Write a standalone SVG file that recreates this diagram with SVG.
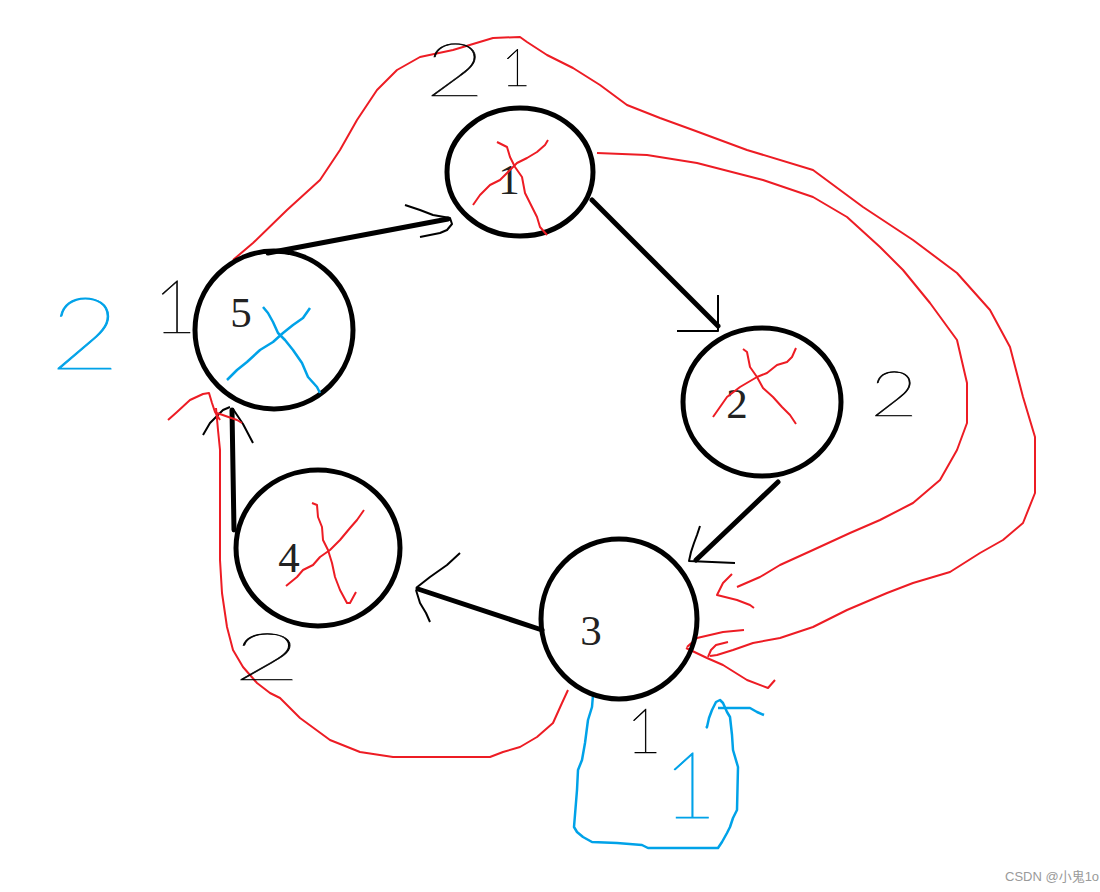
<svg xmlns="http://www.w3.org/2000/svg" width="1100" height="892" viewBox="0 0 1100 892">
<style>
.node ellipse{fill:none;stroke:#000;stroke-width:5}
.lbl{font-family:"Liberation Serif",serif;font-size:43px;fill:#222;text-anchor:middle}
.thick{fill:none;stroke:#000;stroke-width:5;stroke-linecap:round}
.thin{fill:none;stroke:#000;stroke-width:2;stroke-linejoin:round}
.red{fill:none;stroke:#ed1c24;stroke-width:2;stroke-linejoin:round}
.blue{fill:none;stroke:#00a2e8;stroke-width:2.5;stroke-linejoin:round}
.hand{font-family:Lato,"Liberation Sans",sans-serif;font-weight:100;stroke-width:0.6}
.hb{fill:#000;stroke:#000}
.hbl{fill:#00a2e8;stroke:#00a2e8;stroke-width:0.9}
.wm{font-family:"Liberation Sans","Noto Sans CJK SC",sans-serif;font-size:13px;fill:#9a9a9a}
</style>
<rect width="1100" height="892" fill="#fff"/>
<g id="connectors">
<line class="thick" x1="268" y1="253" x2="448" y2="219"/>
<polyline class="thin" points="405,205 420,210 433,215 450,218 452,224 447,230 440,233 420,237"/>
<line class="thick" x1="592" y1="200" x2="718" y2="326"/>
<polyline class="thin" points="718,295 718,331 677,331"/>
<line class="thick" x1="778" y1="482" x2="696" y2="560"/>
<polyline class="thin" points="700,526 697,535 694,543 691,552 689,561 735,563"/>
<line class="thick" x1="542" y1="630" x2="418" y2="589"/>
<polyline class="thin" points="460,553 447,565 430,577 416,588"/>
<polyline class="thin" points="416,590 420,603 426,613 430,622"/>
<line class="thick" x1="234" y1="530" x2="232" y2="410"/>
<polyline class="thin" points="203,435 210,423 223,410 230,407"/>
<polyline class="thin" points="233,409 243,424 253,443"/>
<polyline class="red" points="233,260 253,243 287,210 320,180 340,150 357,120 377,90 397,70 420,57 453,50 493,38 520,37 527,42 547,55 573,68 600,85 627,105 660,118 693,130 747,150 813,170 863,207 913,240 957,273 990,310 1010,347 1023,397 1035,437 1035,493 1023,523 1003,540 980,553 950,572 913,583 887,593 847,610 813,627 780,638 753,643 733,650 717,655 710,656"/>
<polyline class="red" points="744,630 723,632 697,638 687,647"/>
<polyline class="red" points="686,648 707,658 723,665 747,680 768,688 775,680"/>
<polyline class="red" points="728,642 716,645 711,650 708,657"/>
<polyline class="red" points="597,153 647,155 697,163 763,180 813,197 847,217 880,247 903,270 930,303 957,340 967,383 967,423 957,450 940,480 913,503 880,520 850,533 813,550 780,565 760,577 737,587"/>
<polyline class="red" points="732,574 723,583 717,595 737,600 750,605 754,608"/>
<polyline class="red" points="568,690 562,703 553,723 537,737 520,747 503,752 490,757 393,757 360,752 330,740 300,718 280,698 270,693 257,683 243,667 233,650 227,627 222,593 220,560 220,450 218,430 216,408"/>
<polyline class="red" points="168,420 177,412 190,400 203,394 209,393 212,403 215,412 220,420"/>
<polyline class="red" points="217,413 237,420 242,423"/>
<polyline class="blue" points="593,695 592,707 588,720 585,743 582,760 578,770 577,790 574,827 577,832 583,837 592,842 617,843 642,845 648,848 718,848 722,842 727,833 730,827 733,818 737,810 738,767 733,750 732,735 730,717 727,712 723,703 720,700 716,702 712,710 709,718 707,727 706,728"/>
<polyline class="blue" points="718,708 750,708 757,712 764,715"/>
</g>
<g id="node1" class="node">
<ellipse cx="520" cy="172" rx="73" ry="64"/>
<text class="lbl" x="509" y="194">1</text>
<polyline class="red" points="497,142 507,147 510,157 515,167 522,177 525,193 530,203 537,217 540,227 547,235"/>
<polyline class="red" points="548,140 545,145 537,152 527,158 517,163 510,170 500,180 490,185 480,195 473,205"/>
</g>
<g id="node2" class="node">
<ellipse cx="762" cy="402" rx="79" ry="74"/>
<text class="lbl" x="737" y="418">2</text>
<polyline class="red" points="743,349 747,352 750,367 757,377 763,388 773,397 782,407 790,415 796,424"/>
<polyline class="red" points="796,348 792,357 787,362 777,365 767,373 757,377 740,387 727,397 713,417"/>
</g>
<g id="node3" class="node">
<ellipse cx="619" cy="619" rx="78" ry="80"/>
<text class="lbl" x="591" y="645">3</text>
</g>
<g id="node4" class="node">
<ellipse cx="318" cy="548" rx="82" ry="78"/>
<text class="lbl" x="289" y="572">4</text>
<polyline class="red" points="312,503 317,505 318,517 322,527 323,540 328,550 332,563 335,577 340,590 347,603 350,603 356,592"/>
<polyline class="red" points="364,510 357,520 350,528 340,540 330,550 320,557 313,565 303,570 297,577 286,586"/>
</g>
<g id="node5" class="node">
<ellipse cx="274" cy="330" rx="79" ry="79"/>
<text class="lbl" x="241" y="327">5</text>
<polyline class="blue" points="263,307 268,313 273,322 278,333 285,340 293,350 302,363 308,377 317,387 320,393"/>
<polyline class="blue" points="310,308 303,318 293,325 283,333 273,342 260,350 247,362 237,370 227,380"/>
</g>
<g id="annotations">
<text class="hand hb" x="425" y="96" font-size="75" textLength="60" lengthAdjust="spacingAndGlyphs">2</text>
<text class="hand hb" x="516" y="86" font-size="51" text-anchor="middle">1</text>
<text class="hand hb" x="870" y="416" font-size="61" textLength="48" lengthAdjust="spacingAndGlyphs">2</text>
<text class="hand hb" x="233" y="680" font-size="65" textLength="68" lengthAdjust="spacingAndGlyphs">2</text>
<text class="hand hb" x="175" y="333" font-size="75" text-anchor="middle">1</text>
<text class="hand hb" x="644" y="753" font-size="61" text-anchor="middle">1</text>
<text class="hand hbl" x="50" y="369" font-size="100" textLength="70" lengthAdjust="spacingAndGlyphs">2</text>
<text class="hand hbl" x="690" y="818" font-size="92" text-anchor="middle">1</text>
</g>
<text class="wm" x="1005" y="881">CSDN @小鬼1o</text>
</svg>
